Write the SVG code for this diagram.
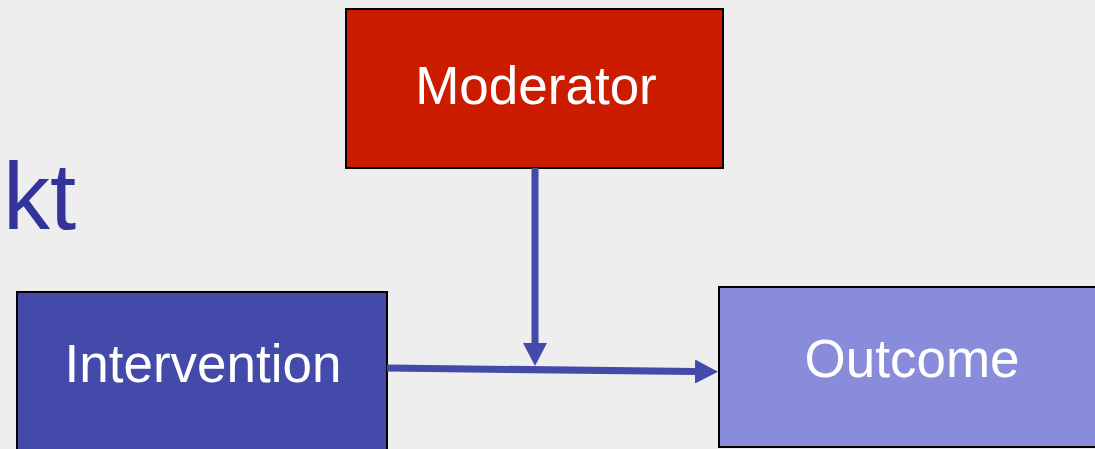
<svg xmlns="http://www.w3.org/2000/svg" width="1095" height="449" viewBox="0 0 1095 449">
<style>
.box{stroke:#000;stroke-width:2}
.lbl{font-family:"Liberation Sans",Arial,sans-serif;font-size:53px;fill:#fff;text-anchor:middle}
.conn{stroke:#434aa9;stroke-width:7;fill:none}
</style>
<defs>
<marker id="ah" markerUnits="userSpaceOnUse" markerWidth="23" markerHeight="24" refX="0" refY="12" orient="auto">
<path d="M0,0 L23,12 L0,24 z" fill="#434aa9"/>
</marker>
</defs>
<rect width="1095" height="449" fill="#eeeeee"/>
<text x="3" y="229" font-family="Liberation Sans,Arial,sans-serif" font-size="94" fill="#33339c">kt</text>
<g id="moderator">
<rect class="box" x="346" y="9" width="377" height="159" fill="#cc1c00"/>
<text class="lbl" x="536" y="104">Moderator</text>
</g>
<g id="intervention">
<rect class="box" x="17" y="292" width="370" height="170" fill="#434aa9"/>
<text class="lbl" x="203" y="382">Intervention</text>
</g>
<g id="outcome">
<rect class="box" x="719" y="287" width="390" height="160" fill="#898cdb"/>
<text class="lbl" x="912" y="377">Outcome</text>
</g>
<g id="connectors">
<line class="conn" x1="535" y1="168" x2="535" y2="343" marker-end="url(#ah)"/>
<line class="conn" x1="387" y1="368" x2="695" y2="371.5" marker-end="url(#ah)"/>
</g>
</svg>
